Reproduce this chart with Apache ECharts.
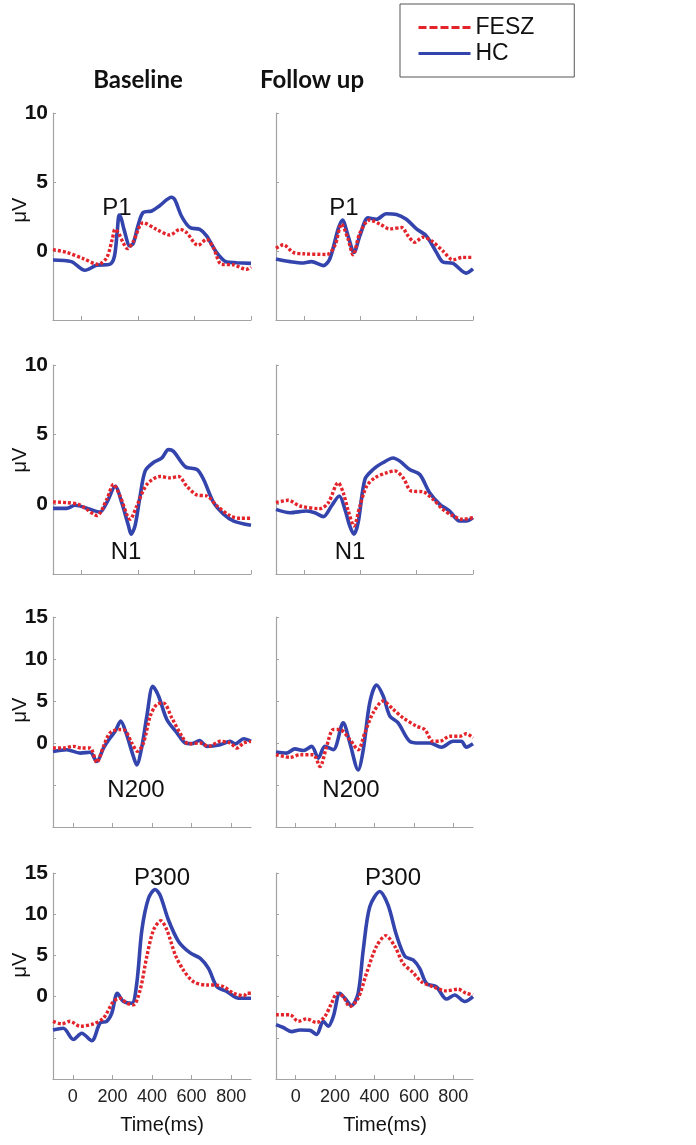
<!DOCTYPE html>
<html>
<head>
<meta charset="utf-8">
<script src="https://cdn.jsdelivr.net/npm/echarts@6/dist/echarts.min.js"></script>
<style>html,body{margin:0;padding:0;background:#fff}#c{width:696px;height:1145px}</style>
</head>
<body>
<div id="c"></div>
<script>
// ---- data: [time ms, amplitude µV] ----
const p1BaseHC = [[-100,-0.65],[-35,-0.77],[13,-1.4],[54,-1.04],[100,-0.97],[117,-0.4],[127,1.4],[134,2.6],[142,2.3],[151,1.57],[172,0.36],[184,0.56],[200,1.8],[219,2.8],[249,2.9],[278,3.3],[319,3.9],[331,3.7],[355,2.5],[384,1.7],[419,1.57],[443,1.1],[478,-0.1],[514,-0.8],[549,-0.85],[600,-0.9]];
const p1BaseFESZ = [[-100,0.1],[-52,-0.1],[7,-0.55],[60,-0.97],[90,-0.48],[110,0.9],[119,1.57],[131,1.33],[148,0.6],[163,0.17],[184,0.7],[219,2.05],[266,1.57],[313,1.16],[349,1.57],[372,1.33],[413,0.41],[443,0.85],[467,0.24],[496,-0.97],[537,-1.0],[584,-1.33],[600,-1.16]];
const p1FollowHC = [[-100,-0.58],[-50,-0.77],[-3,-0.87],[26,-0.77],[68,-1.06],[91,-0.58],[121,1.6],[136,2.25],[156,1.1],[177,-0.1],[198,1.1],[227,2.4],[257,2.3],[292,2.7],[328,2.65],[363,2.3],[399,1.6],[434,1.1],[470,-0.1],[493,-0.8],[529,-0.9],[576,-1.6],[600,-1.3]];
const p1FollowFESZ = [[-100,0.2],[-74,0.45],[-39,-0.1],[-3,-0.2],[80,-0.25],[109,0.38],[133,1.95],[156,0.87],[174,-0.27],[198,1.3],[233,2.25],[269,1.95],[304,1.6],[346,1.7],[369,1.1],[393,0.63],[422,1.0],[452,0.75],[493,0.0],[529,-0.63],[564,-0.46],[600,-0.46]];

const n1BaseHC = [[-100,-0.29],[-52,-0.29],[-22,-0.07],[31,-0.36],[66,-0.55],[90,0.12],[120,1.3],[143,0.12],[167,-1.55],[176,-2.14],[190,-1.55],[208,0.6],[226,2.4],[255,3.0],[285,3.33],[308,3.93],[326,3.8],[368,2.7],[409,2.5],[432,1.8],[468,0.12],[503,-0.7],[539,-1.2],[600,-1.5]];
const n1BaseFESZ = [[-100,0.17],[-52,0.12],[-10,0],[19,-0.36],[55,-0.8],[90,0.36],[114,1.43],[137,0.6],[173,-1.07],[196,-0.12],[232,1.43],[279,2.0],[314,1.9],[344,2.0],[373,1.3],[409,0.67],[444,0.6],[480,-0.12],[527,-0.83],[562,-1.0],[600,-1.0]];
const n1FollowHC = [[-100,-0.36],[-50,-0.6],[9,-0.48],[38,-0.6],[68,-0.88],[97,-0.12],[125,0.6],[145,-0.36],[162,-1.55],[177,-2.14],[192,-1.3],[216,1.8],[245,2.5],[281,3.0],[316,3.33],[340,3.1],[375,2.5],[411,2.14],[446,0.83],[482,0],[517,-0.48],[552,-1.2],[576,-1.2],[600,-0.95]];
const n1FollowFESZ = [[-100,0.12],[-56,0.29],[-15,-0.12],[56,-0.31],[86,0.12],[121,1.55],[139,0.83],[157,-0.48],[177,-1.55],[198,-0.12],[222,1.3],[251,1.9],[292,2.26],[322,2.4],[352,1.9],[381,0.95],[422,0.9],[458,0.36],[493,-0.36],[529,-0.83],[564,-1.07],[600,-0.95]];

const n200BaseHC = [[-100,-1.0],[-31,-0.8],[37,-1.2],[87,-1.1],[121,-2.2],[155,-0.6],[188,0.6],[214,1.4],[242,2.6],[269,1.2],[306,-1.6],[323,-2.6],[349,-0.4],[374,3.2],[404,6.75],[433,5.6],[475,2.8],[526,1.2],[568,0],[602,-0.08],[640,0.3],[677,-0.4],[745,-0.2],[795,0.2],[821,-0.1],[863,0.5],[900,0.2]];
const n200BaseFESZ = [[-100,-0.6],[-48,-0.6],[3,-0.4],[45,-0.6],[87,-0.6],[121,-2.3],[155,-0.4],[188,1.2],[239,1.6],[264,1.5],[298,0],[327,-1.0],[357,0],[391,3.2],[424,4.6],[458,4.75],[500,3.0],[551,0.8],[585,-0.1],[644,0],[686,-0.4],[745,0.2],[795,0],[829,-0.6],[863,0],[900,0.2]];
const n200FollowHC = [[-100,-1.07],[-46,-1.2],[-4,-0.7],[39,-0.9],[81,-0.4],[115,-1.8],[148,-0.4],[191,-0.8],[241,2.4],[275,0],[317,-3.2],[343,-0.8],[376,4.8],[410,6.9],[444,5.6],[478,3.2],[520,2.4],[579,0.2],[630,0],[680,0],[740,-0.5],[799,0.2],[841,0.2],[866,-0.5],[900,-0.1]];
const n200FollowFESZ = [[-100,-1.4],[-29,-1.7],[22,-1.4],[89,-1.4],[123,-2.8],[157,-0.4],[191,1.6],[224,1.6],[275,0.4],[317,-0.8],[351,1.2],[393,3.6],[444,5.0],[495,4.0],[545,3.0],[613,2.0],[655,1.6],[697,0.2],[731,0.2],[782,0.8],[832,0.8],[866,1.1],[900,0.6]];

const p300BaseHC = [[-100,-4.05],[-48,-3.85],[3,-5.2],[45,-4.45],[96,-5.35],[138,-3.2],[171,-3.0],[197,-2.0],[225,0.4],[256,-0.6],[298,-0.8],[323,1.6],[349,8.1],[382,11.9],[416,13.0],[441,12.3],[483,9.3],[534,6.7],[593,5.3],[644,4.65],[686,3.4],[728,1.2],[779,0.6],[838,-0.2],[900,-0.2]];
const p300BaseFESZ = [[-100,-3.0],[-56,-3.3],[-14,-3.0],[37,-3.6],[104,-3.3],[155,-2.6],[205,-0.6],[239,-0.2],[273,-0.8],[306,-1.0],[340,0.8],[374,4.9],[408,8.1],[445,9.2],[475,8.1],[517,5.1],[559,3.2],[610,1.8],[677,1.4],[720,1.4],[762,1.2],[812,0.4],[863,0.1],[880,0.4],[900,0.4]];
const p300FollowHC = [[-100,-3.4],[-63,-3.75],[-21,-4.25],[22,-4.05],[72,-4.1],[106,-4.6],[140,-3.0],[165,-3.6],[191,-2.4],[224,0.4],[250,-0.2],[283,-1.1],[317,0.4],[343,5.7],[376,10.9],[427,12.75],[469,11.1],[511,7.5],[554,4.9],[596,4.45],[630,3.4],[664,1.6],[714,1.2],[765,-0.3],[807,0.2],[858,-0.6],[900,0]];
const p300FollowFESZ = [[-100,-2.2],[-29,-2.2],[13,-3.0],[55,-2.7],[106,-3.15],[148,-2.4],[182,-0.8],[211,0.4],[241,0],[275,-1.2],[317,-0.2],[359,2.8],[410,6.1],[457,7.4],[503,6.1],[545,4.05],[596,2.9],[638,1.8],[697,1.2],[765,0.7],[824,0.9],[866,0.4],[900,0.2]];

const columnTitles = ['Baseline', 'Follow up'];
const componentLabels = ['P1', 'N1', 'N200', 'P300'];
const seriesNames = ['FESZ', 'HC'];
const shortTimeTicks = [0, 200, 400, 600];
const longTimeTicks = [0, 200, 400, 600, 800];
const xLabel = 'Time(ms)';
const yLabel = 'μV';

// ---- layout ----
const cols = [{left: 53, width: 198}, {left: 276, width: 197}];
const rows = [
  {top: 113, height: 207, ymin: -5, ymax: 10, tmin: -100, tmax: 600, ticks: shortTimeTicks, hc: [p1BaseHC, p1FollowHC], fe: [p1BaseFESZ, p1FollowFESZ]},
  {top: 365, height: 209, ymin: -5, ymax: 10, tmin: -100, tmax: 600, ticks: shortTimeTicks, hc: [n1BaseHC, n1FollowHC], fe: [n1BaseFESZ, n1FollowFESZ]},
  {top: 617, height: 210, ymin: -10, ymax: 15, tmin: -100, tmax: 900, ticks: longTimeTicks, hc: [n200BaseHC, n200FollowHC], fe: [n200BaseFESZ, n200FollowFESZ]},
  {top: 873, height: 206, ymin: -10, ymax: 15, tmin: -100, tmax: 900, ticks: longTimeTicks, hc: [p300BaseHC, p300FollowHC], fe: [p300BaseFESZ, p300FollowFESZ]}
];

const AX = '#a3a3a3';
const BLUE = '#3444ad';
const RED = '#e3242b';
const grids = [], xAxes = [], yAxes = [], series = [];
rows.forEach((r, ri) => {
  cols.forEach((c, ci) => {
    const idx = grids.length;
    grids.push({left: c.left, top: r.top, width: c.width, height: r.height, containLabel: false});
    xAxes.push({
      type: 'value', gridIndex: idx, min: r.tmin, max: r.tmax, position: 'bottom',
      axisLine: {show: true, onZero: false, lineStyle: {color: AX, width: 1.2}},
      axisTick: {show: true, inside: true, length: 4, customValues: r.ticks, lineStyle: {color: AX}},
      axisLabel: {show: ri === 3, customValues: r.ticks, margin: 9, fontSize: 18, color: '#222', fontFamily: 'Liberation Sans'},
      splitLine: {show: false}
    });
    yAxes.push({
      type: 'value', gridIndex: idx, min: r.ymin, max: r.ymax, interval: 5, position: 'left',
      axisLine: {show: true, onZero: false, lineStyle: {color: AX, width: 1.2}},
      axisTick: {show: true, inside: true, length: 3, lineStyle: {color: AX}},
      axisLabel: {show: ci === 0, margin: 5, fontSize: 21, fontWeight: 'bold', color: '#111', fontFamily: 'Liberation Sans',
        formatter: v => (v >= 0 ? String(v) : '')},
      splitLine: {show: false}
    });
    series.push({
      name: 'HC', type: 'line', xAxisIndex: idx, yAxisIndex: idx, data: r.hc[ci],
      symbol: 'none', smooth: 0.3, lineStyle: {color: BLUE, width: 3.6}, itemStyle: {color: BLUE}, z: 2
    });
    series.push({
      name: 'FESZ', type: 'line', xAxisIndex: idx, yAxisIndex: idx, data: r.fe[ci],
      symbol: 'none', smooth: 0.3, lineStyle: {color: RED, width: 3.4, type: [3, 2]}, itemStyle: {color: RED}, z: 3
    });
  });
});

const txt = (x, y, text, font, extra) => Object.assign({
  type: 'text', x: x, y: y, silent: true,
  style: {text: text, font: font, fill: '#111', textAlign: 'center', textVerticalAlign: 'middle'}
}, extra || {});

const annPos = [[[117, 208], [344, 208]], [[126, 552], [350, 552]], [[136, 790], [351, 790]], [[162, 878], [393, 878]]];
const muY = [210, 460, 710, 965];
const graphics = [
  txt(138, 80, columnTitles[0], 'bold 24px Lato'),
  txt(312, 80, columnTitles[1], 'bold 24px Lato'),
  txt(162, 1125, xLabel, '20px "Liberation Sans"'),
  txt(385, 1125, xLabel, '20px "Liberation Sans"')
];
componentLabels.forEach((lab, i) => {
  graphics.push(txt(annPos[i][0][0], annPos[i][0][1], lab, '24px "Liberation Sans"'));
  graphics.push(txt(annPos[i][1][0], annPos[i][1][1], lab, '24px "Liberation Sans"'));
  graphics.push(txt(20, muY[i], yLabel, '20px "Liberation Sans"', {rotation: Math.PI / 2}));
});

const hidden = {color: 'rgba(0,0,0,0)', borderColor: 'rgba(0,0,0,0)', borderWidth: 0, opacity: 0};
const chart = echarts.init(document.getElementById('c'), null, {renderer: 'canvas'});
chart.setOption({
  animation: false,
  backgroundColor: '#fff',
  legend: {
    orient: 'vertical', left: 400, top: 4,
    padding: [12, 40, 12, 17], itemGap: 3, itemWidth: 52, itemHeight: 20,
    borderColor: '#555', borderWidth: 1,
    itemStyle: hidden,
    textStyle: {fontSize: 23, color: '#111', fontFamily: 'Liberation Sans'},
    data: [
      {name: seriesNames[0], itemStyle: hidden, lineStyle: {type: [8, 3], width: 3, color: RED}},
      {name: seriesNames[1], itemStyle: hidden, lineStyle: {width: 3, color: BLUE}}
    ]
  },
  grid: grids, xAxis: xAxes, yAxis: yAxes, series: series, graphic: graphics
});
</script>
</body>
</html>
